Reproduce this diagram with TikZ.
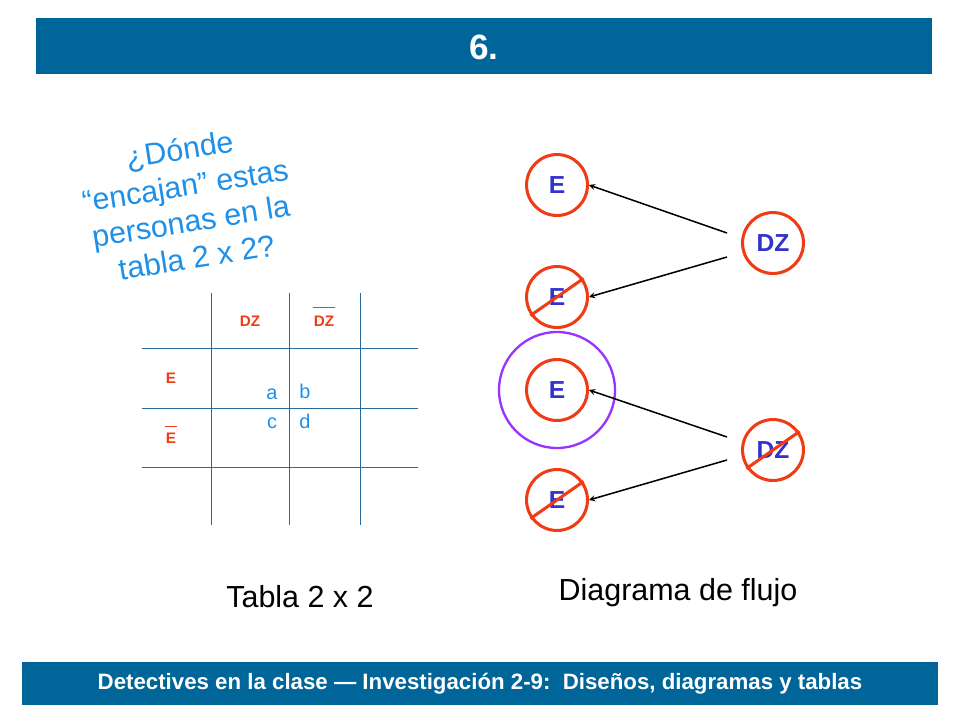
\documentclass[tikz,border=0pt]{standalone}
\usepackage{fontspec}
\setmainfont{Liberation Sans}
\definecolor{barblue}{HTML}{006699}
\definecolor{qblue}{HTML}{1E90E8}
\definecolor{redo}{HTML}{F03C14}
\definecolor{txtblue}{HTML}{3333CC}
\definecolor{gridblue}{HTML}{2A6A9A}
\definecolor{purp}{HTML}{9933FF}
\tikzset{
  ball/.style={circle, draw=redo, line width=2.6pt, minimum size=52pt, inner sep=0pt,
    text=txtblue, font=\fontsize{21}{21}\selectfont\bfseries},
  gridline/.style={draw=gridblue, line width=0.8pt},
  hdr/.style={text=redo, font=\fontsize{13}{13}\selectfont\bfseries},
  cell/.style={text=qblue, font=\fontsize{17}{17}\selectfont},
  strike/.style={draw=redo, line width=2.6pt},
  arr/.style={-stealth, line width=1.3pt}
}
\begin{document}
\begin{tikzpicture}[x=0.03cm, y=-0.03cm]
  \useasboundingbox (0,0) rectangle (960,720);
  % title and footer bars
  \fill[barblue] (36,18) rectangle (932,74);
  \node[text=white, font=\fontsize{30}{30}\selectfont\bfseries] (title) at (484,47) {6.};
  \fill[barblue] (22,662) rectangle (938,705);
  \node[text=white, font=\fontsize{19}{19}\selectfont\bfseries] (foot) at (480,684)
    {Detectives en la clase --- Investigación 2-9:\ \ Diseños, diagramas y tablas};

  % question
  \node[text=qblue, rotate=9, align=center, font=\fontsize{26}{31}\selectfont] (quest) at (188,203)
    {¿Dónde\\``encajan'' estas\\personas en la\\tabla 2 x 2?};

  % 2 x 2 table
  \foreach \x in {211,289,360} \draw[gridline] (\x,293) -- (\x,525);
  \foreach \y in {348,408,467} \draw[gridline] (142,\y) -- (418,\y);
  \node[hdr] (dz) at (250,321) {DZ};
  \node[hdr] (ndz) at (324,321) {DZ};
  \draw[redo, line width=1.2pt] (ndz.north west) ++(3,-4) -- ([shift={(-3,-4)}]ndz.north east);
  \node[hdr] (e) at (171,378) {E};
  \node[hdr] (ne) at (171,438) {E};
  \draw[redo, line width=1.2pt] (ne.north west) ++(3,-2) -- ([shift={(-3,-2)}]ne.north east);
  \node[cell] (a) at (272,394) {a};
  \node[cell] (b) at (305,391) {b};
  \node[cell] (c) at (272,423) {c};
  \node[cell] (d) at (305,421) {d};
  \node[font=\fontsize{26}{26}\selectfont] (tab) at (300,597) {Tabla 2 x 2};

  % flow diagram
  \node[ball] (e1) at (557,185) {E};
  \node[ball] (e2) at (557,297) {E};
  \node[ball] (e3) at (557,390) {E};
  \node[ball] (e4) at (557,500) {E};
  \node[ball] (dz1) at (773,243) {DZ};
  \node[ball] (dz2) at (773,450) {DZ};
  \draw[purp, line width=2pt] (e3) circle (58);
  \foreach \n in {e2,e4,dz2}
    \draw[strike] ([shift={(-4,-4)}]\n.south west) -- ([shift={(4,4)}]\n.north east);
  \draw[arr] (dz1.west) ++(-14,-10) -- (e1.east);
  \draw[arr] (dz1.west) ++(-14,14) -- (e2.east);
  \draw[arr] (dz2.west) ++(-14,-13) -- (e3.east);
  \draw[arr] (dz2.west) ++(-14,10) -- (e4.east);
  \node[font=\fontsize{26}{26}\selectfont] (flow) at (678,593) {Diagrama de flujo};
\end{tikzpicture}
\end{document}
